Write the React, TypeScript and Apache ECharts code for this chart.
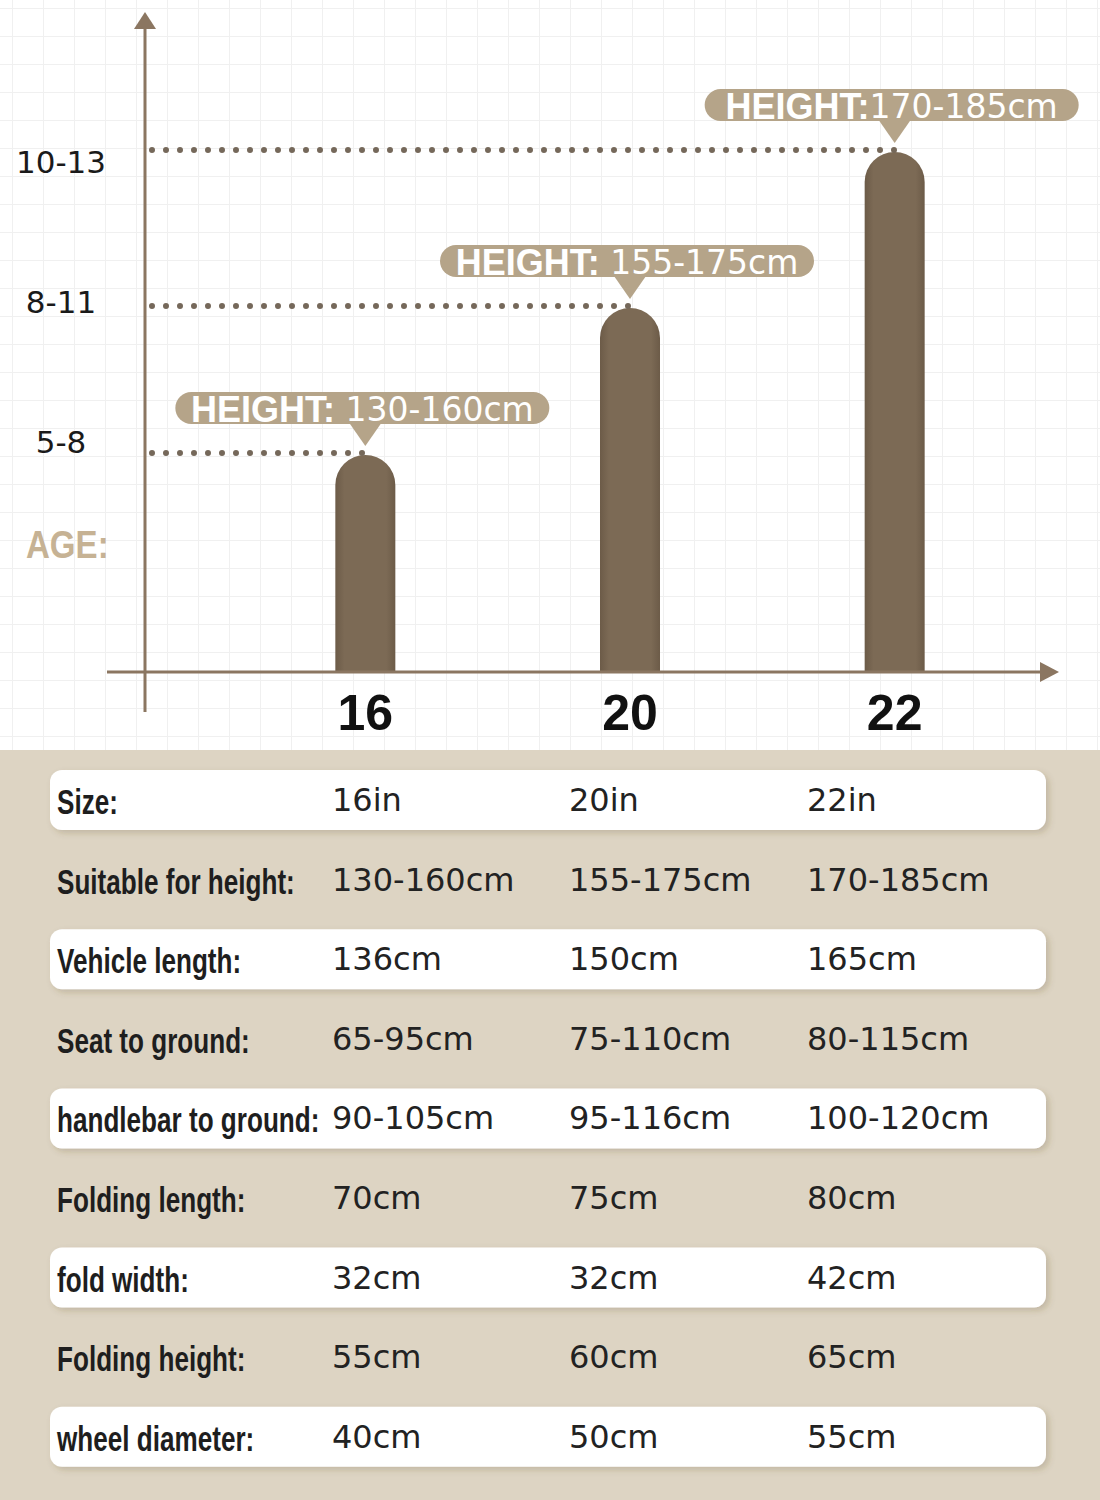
import React, { useEffect, useRef } from "react";
import * as echarts from "echarts";

const categories = ["16", "20", "22"];
const barLevels = [2.17, 3.64, 5.2];
const ageLabels = ["5-8", "8-11", "10-13"];
const ageTickLevels = [2.3, 3.7, 5.1];
const heightRanges = [" 130-160cm", " 155-175cm", "170-185cm"];

const rowLabels = [
  "Size:",
  "Suitable for height:",
  "Vehicle length:",
  "Seat to ground:",
  "handlebar to ground:",
  "Folding length:",
  "fold width:",
  "Folding height:",
  "wheel diameter:",
];
const values16 = ["16in", "130-160cm", "136cm", "65-95cm", "90-105cm", "70cm", "32cm", "55cm", "40cm"];
const values20 = ["20in", "155-175cm", "150cm", "75-110cm", "95-116cm", "75cm", "32cm", "60cm", "50cm"];
const values22 = ["22in", "170-185cm", "165cm", "80-115cm", "100-120cm", "80cm", "42cm", "65cm", "55cm"];

const AXIS = "#8b7661";
const PILL = "#b5a489";
const BEIGE = "#ddd4c3";
const LABEL_FONT = "'Liberation Sans', Arial, sans-serif";
const VALUE_FONT = "'DejaVu Sans', sans-serif";

export default function App() {
  const ref = useRef<HTMLDivElement>(null);

  useEffect(() => {
    if (!ref.current) return;
    const chart = echarts.init(ref.current, undefined, { renderer: "svg" });

    const tableEls: any[] = [];
    tableEls.push({
      type: "rect",
      shape: { x: 0, y: 750, width: 1100, height: 750 },
      style: { fill: BEIGE },
      z: 0,
    });
    const columns = [values16, values20, values22];
    const colX = [332, 569, 807];
    rowLabels.forEach((lab, i) => {
      const cy = 800 + i * 79.6;
      if (i % 2 === 0) {
        tableEls.push({
          type: "rect",
          shape: { x: 50, y: cy - 30, width: 996, height: 60, r: 12 },
          style: {
            fill: "#ffffff",
            shadowBlur: 6,
            shadowOffsetX: 3,
            shadowOffsetY: 3,
            shadowColor: "rgba(90,70,40,0.22)",
          },
          z: 1,
        });
      }
      tableEls.push({
        type: "text",
        x: 57,
        y: cy + 2,
        scaleX: 0.725,
        z: 2,
        style: {
          text: lab,
          fontFamily: LABEL_FONT,
          fontWeight: "bold",
          fontSize: 36,
          fill: "#1e1e1e",
          align: "left",
          verticalAlign: "middle",
        },
      });
      columns.forEach((col, c) => {
        tableEls.push({
          type: "text",
          x: colX[c],
          y: cy,
          z: 2,
          style: {
            text: col[i],
            fontFamily: VALUE_FONT,
            fontSize: 32,
            fill: "#222222",
            align: "left",
            verticalAlign: "middle",
          },
        });
      });
    });

    const option: any = {
      animation: false,
      backgroundColor: "transparent",
      grid: { left: 233, right: 73, top: 15, bottom: 828, containLabel: false },
      xAxis: {
        type: "category",
        data: categories,
        axisLine: { show: false },
        axisTick: { show: false },
        splitLine: { show: false },
        axisLabel: {
          margin: 16,
          fontSize: 50,
          fontWeight: "bold",
          fontFamily: "'Liberation Sans', sans-serif",
          color: "#111111",
        },
      },
      yAxis: {
        type: "value",
        min: 0,
        max: 6.57,
        axisLine: { show: false },
        axisTick: { show: false },
        axisLabel: { show: false },
        splitLine: { show: false },
      },
      series: [
        {
          type: "bar",
          data: barLevels,
          barWidth: 60,
          z: 3,
          itemStyle: {
            borderRadius: [30, 30, 0, 0],
            color: new echarts.graphic.LinearGradient(0, 0, 1, 0, [
              { offset: 0, color: "#6c5b48" },
              { offset: 0.15, color: "#7c6a55" },
              { offset: 0.85, color: "#7c6a55" },
              { offset: 1, color: "#6c5b48" },
            ]),
          },
        },
        {
          type: "custom",
          data: barLevels.map((v, i) => [i, v]),
          z: 4,
          renderItem: (params: any, api: any) => {
            const i = params.dataIndex;
            const p = api.coord([api.value(0), api.value(1)]);
            const cx = p[0];
            const cy = p[1];
            const ty = api.coord([0, ageTickLevels[i]])[1];
            return {
              type: "group",
              children: [
                {
                  type: "line",
                  shape: { x1: 152, y1: cy - 2, x2: cx, y2: cy - 2 },
                  style: {
                    stroke: "#75685a",
                    lineWidth: 6,
                    lineDash: [0, 14],
                    lineCap: "round",
                  },
                },
                {
                  type: "text",
                  x: 61,
                  y: ty,
                  style: {
                    text: ageLabels[i],
                    fontFamily: VALUE_FONT,
                    fontSize: 31,
                    fill: "#1a1a1a",
                    align: "center",
                    verticalAlign: "middle",
                  },
                },
                {
                  type: "rect",
                  shape: { x: cx - 190, y: cy - 63, width: 374, height: 32, r: 16 },
                  style: { fill: PILL },
                },
                {
                  type: "polygon",
                  shape: {
                    points: [
                      [cx - 16, cy - 32],
                      [cx + 16, cy - 32],
                      [cx, cy - 9],
                    ],
                  },
                  style: { fill: PILL },
                },
                {
                  type: "text",
                  x: cx - 3,
                  y: cy - 46,
                  style: {
                    text: "{b|HEIGHT:}{n|" + heightRanges[i] + "}",
                    align: "center",
                    verticalAlign: "middle",
                    rich: {
                      b: {
                        fontFamily: "'Liberation Sans', sans-serif",
                        fontWeight: "bold",
                        fontSize: 36,
                        fill: "#ffffff",
                      },
                      n: {
                        fontFamily: VALUE_FONT,
                        fontSize: 33,
                        fill: "#ffffff",
                      },
                    },
                  },
                },
              ],
            };
          },
        },
      ],
      graphic: [
        {
          type: "line",
          shape: { x1: 145, y1: 26, x2: 145, y2: 712 },
          style: { stroke: AXIS, lineWidth: 3 },
          z: 5,
        },
        {
          type: "polygon",
          shape: { points: [[145, 12], [134, 29], [156, 29]] },
          style: { fill: AXIS },
          z: 5,
        },
        {
          type: "line",
          shape: { x1: 107, y1: 672, x2: 1045, y2: 672 },
          style: { stroke: AXIS, lineWidth: 3 },
          z: 5,
        },
        {
          type: "polygon",
          shape: { points: [[1059, 672], [1040, 662], [1040, 682]] },
          style: { fill: AXIS },
          z: 5,
        },
        {
          type: "text",
          x: 26,
          y: 545,
          scaleX: 0.87,
          z: 5,
          style: {
            text: "AGE:",
            fontFamily: "'Liberation Sans', sans-serif",
            fontWeight: "bold",
            fontSize: 38,
            fill: "#c6b294",
            align: "left",
            verticalAlign: "middle",
          },
        },
        ...tableEls,
      ],
    };

    chart.setOption(option);
    return () => chart.dispose();
  }, []);

  return (
    <div
      ref={ref}
      style={{
        position: "absolute",
        left: 0,
        top: 0,
        width: 1100,
        height: 1500,
        backgroundColor: "#ffffff",
        backgroundImage:
          "linear-gradient(#f0f0f0 1px, transparent 1px), linear-gradient(90deg, #f0f0f0 1px, transparent 1px)",
        backgroundSize: "31px 28px",
        backgroundPosition: "12px 8px",
      }}
    />
  );
}
